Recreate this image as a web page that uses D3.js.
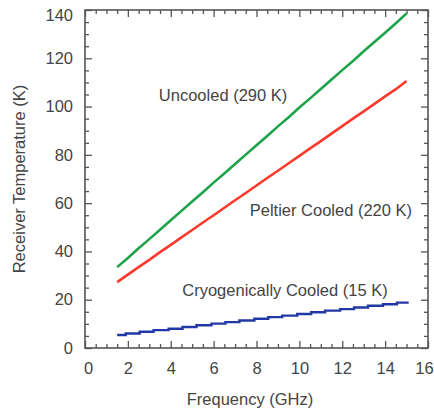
<!DOCTYPE html>
<html>
<head>
<meta charset="utf-8">
<script src="https://cdn.jsdelivr.net/npm/d3@7"></script>
<style>
  body { margin: 0; background: #fff; }
  text { font-family: "Liberation Sans", Arial, sans-serif; fill: #444; }
</style>
</head>
<body>
<div id="chart"></div>
<script>
// frequencies (GHz) for the two smooth curves
var freqs = [1.5, 2.0, 2.5, 3.0, 3.5, 4.0, 4.5, 5.0, 5.5, 6.0, 6.5, 7.0, 7.5, 8.0,
             8.5, 9.0, 9.5, 10.0, 10.5, 11.0, 11.5, 12.0, 12.5, 13.0, 13.5, 14.0, 14.5, 15.0];
var uncooled = [33.5, 37.3, 41.3, 45.1, 49.0, 52.9, 56.8, 60.7, 64.5, 68.5, 72.3, 76.2, 80.1, 84.0,
                87.8, 91.8, 95.6, 99.6, 103.4, 107.3, 111.2, 115.1, 118.9, 122.9, 126.7, 130.6, 134.5, 138.6];
var peltier = [27.3, 30.4, 33.5, 36.5, 39.7, 42.7, 45.8, 48.9, 52.0, 55.0, 58.1, 61.2, 64.2, 67.3,
               70.4, 73.4, 76.5, 79.6, 82.7, 85.7, 88.8, 91.9, 95.0, 98.0, 101.1, 104.2, 107.2, 110.6];
// cryogenic curve is a staircase
var cryoFreqs = [1.5, 1.9, 2.55, 3.2, 3.9, 4.55, 5.2, 5.9, 6.55, 7.2, 7.9, 8.55, 9.2, 9.9,
                 10.55, 11.2, 11.9, 12.55, 13.2, 13.9, 14.55, 15.1];
var cryo = [5.4, 6.0, 6.7, 7.4, 8.0, 8.7, 9.4, 10.1, 10.7, 11.4, 12.1, 12.8, 13.4, 14.1,
            14.8, 15.5, 16.1, 16.8, 17.5, 18.1, 18.8, 18.8];

var xTicks = [0, 2, 4, 6, 8, 10, 12, 14, 16];
var yTicks = [0, 20, 40, 60, 80, 100, 120, 140];

var svgWidth = 434, svgHeight = 414;
var margin = { top: 10, right: 6, bottom: 66, left: 85 };
var width = svgWidth - margin.left - margin.right;
var height = svgHeight - margin.top - margin.bottom;
var fs = 16.5;

var svg = d3.select("#chart").append("svg")
  .attr("width", svgWidth)
  .attr("height", svgHeight);

var g = svg.append("g")
  .attr("transform", `translate(${margin.left}, ${margin.top})`);

var x = d3.scaleLinear().domain([0, 16]).range([0, width]);
var y = d3.scaleLinear().domain([0, 140]).range([height, 0]);

var xMinor = d3.range(0, 16.01, 0.5).filter(v => v % 2 !== 0);
var yMinor = d3.range(0, 140.01, 5).filter(v => v % 20 !== 0);

function styleAxis(sel) {
  sel.select(".domain").remove();
  sel.selectAll("line").attr("stroke", "#555").attr("stroke-width", 1.3);
  sel.selectAll("text").attr("font-size", fs).attr("fill", "#444");
}

// major ticks with labels
var xAxisG = g.append("g").attr("transform", `translate(0, ${height})`)
  .call(d3.axisBottom(x).tickValues(xTicks).tickSize(-7).tickPadding(14).tickFormat(d3.format("d")))
  .call(styleAxis);
// end labels are nudged inward in the reference
xAxisG.selectAll("text").filter(d => d === 16).attr("dx", -4);
xAxisG.selectAll("text").filter(d => d === 0).attr("dx", 3);
var yAxisG = g.append("g")
  .call(d3.axisLeft(y).tickValues(yTicks).tickSize(-7).tickPadding(12).tickFormat(d3.format("d")))
  .call(styleAxis);
yAxisG.selectAll("text").filter(d => d === 140).attr("dy", "0.62em");
// mirror ticks, top and right
g.append("g")
  .call(d3.axisTop(x).tickValues(xTicks).tickSize(-7).tickFormat(""))
  .call(styleAxis);
g.append("g").attr("transform", `translate(${width}, 0)`)
  .call(d3.axisRight(y).tickValues(yTicks).tickSize(-7).tickFormat(""))
  .call(styleAxis);
// minor ticks
g.append("g").attr("transform", `translate(0, ${height})`)
  .call(d3.axisBottom(x).tickValues(xMinor).tickSize(-4).tickFormat(""))
  .call(styleAxis);
g.append("g")
  .call(d3.axisTop(x).tickValues(xMinor).tickSize(-4).tickFormat(""))
  .call(styleAxis);
g.append("g")
  .call(d3.axisLeft(y).tickValues(yMinor).tickSize(-4).tickFormat(""))
  .call(styleAxis);
g.append("g").attr("transform", `translate(${width}, 0)`)
  .call(d3.axisRight(y).tickValues(yMinor).tickSize(-4).tickFormat(""))
  .call(styleAxis);

// frame
g.append("rect")
  .attr("width", width).attr("height", height)
  .attr("fill", "none").attr("stroke", "#555").attr("stroke-width", 1.6);

// curves
var line = d3.line().x(d => x(d[0])).y(d => y(d[1]));
var stepLine = d3.line().x(d => x(d[0])).y(d => y(d[1])).curve(d3.curveStepAfter);

g.append("path").datum(d3.zip(freqs, uncooled))
  .attr("d", line).attr("fill", "none").attr("stroke", "#1ea34b").attr("stroke-width", 2.6);
g.append("path").datum(d3.zip(freqs, peltier))
  .attr("d", line).attr("fill", "none").attr("stroke", "#ff3a2c").attr("stroke-width", 2.6);
g.append("path").datum(d3.zip(cryoFreqs, cryo))
  .attr("d", stepLine).attr("fill", "none").attr("stroke", "#2238a6").attr("stroke-width", 2.4);

// curve labels
g.append("text").attr("x", x(6.44)).attr("y", y(104.8)).attr("dy", "0.35em")
  .attr("text-anchor", "middle").attr("font-size", fs).text("Uncooled (290 K)");
g.append("text").attr("x", x(11.47)).attr("y", y(57.2)).attr("dy", "0.35em")
  .attr("text-anchor", "middle").attr("font-size", fs).text("Peltier Cooled (220 K)");
g.append("text").attr("x", x(9.33)).attr("y", y(24)).attr("dy", "0.35em")
  .attr("text-anchor", "middle").attr("font-size", fs).text("Cryogenically Cooled (15 K)");

// axis titles
svg.append("text")
  .attr("transform", `translate(19, ${margin.top + height / 2}) rotate(-90)`)
  .attr("dy", "0.35em").attr("text-anchor", "middle").attr("font-size", fs)
  .text("Receiver Temperature (K)");
svg.append("text")
  .attr("x", 250).attr("y", 399)
  .attr("dy", "0.35em").attr("text-anchor", "middle").attr("font-size", fs)
  .text("Frequency (GHz)");
</script>
</body>
</html>
